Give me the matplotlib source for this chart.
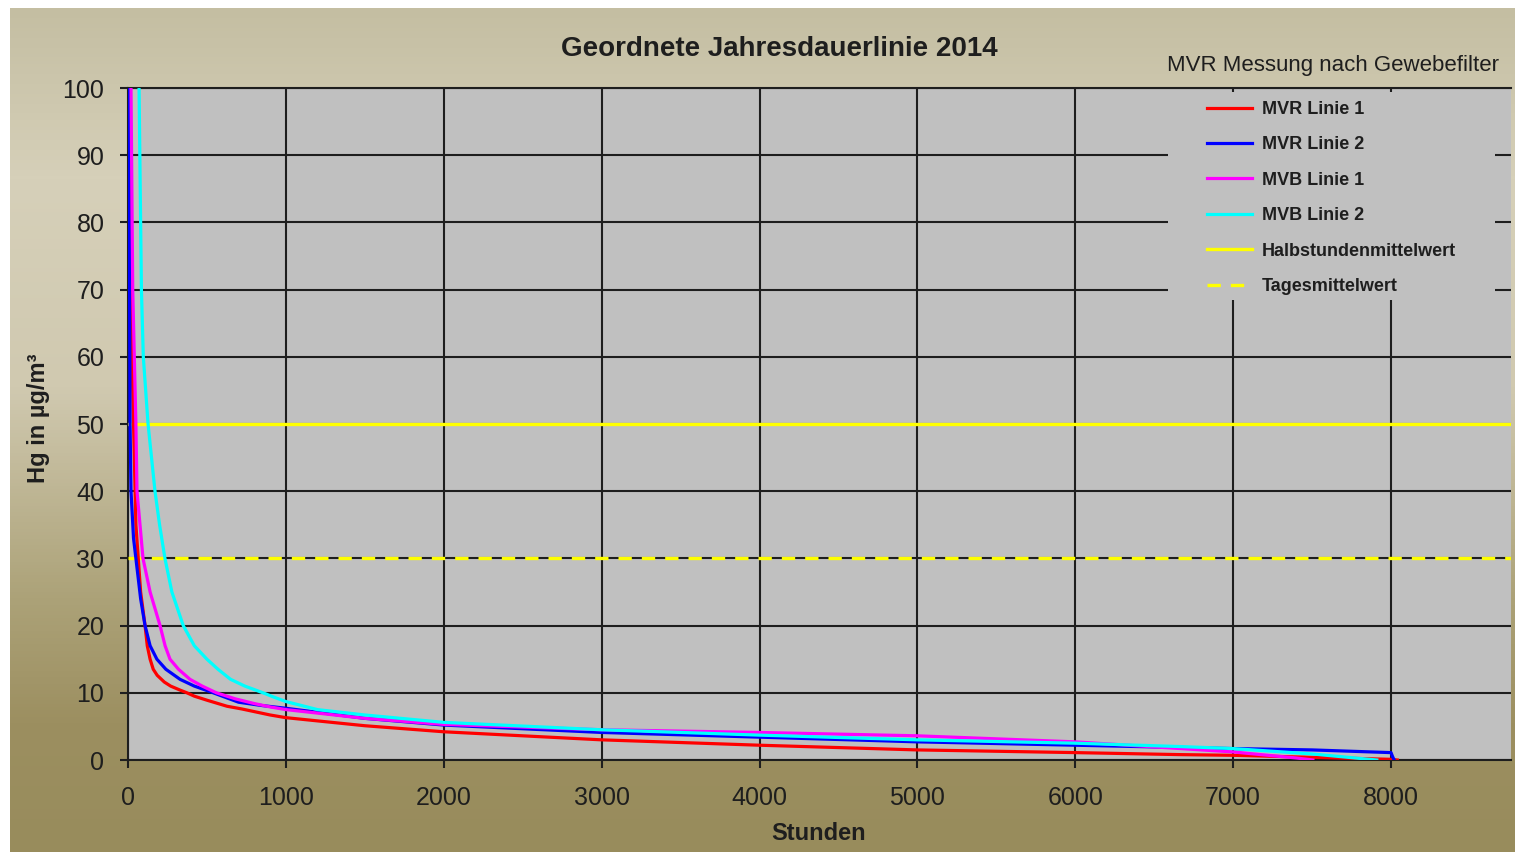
import matplotlib
matplotlib.use("Agg")
import matplotlib.pyplot as plt
import numpy as np
from matplotlib.colors import LinearSegmentedColormap
from matplotlib.patches import Rectangle

# Geordnete Jahresdauerlinie 2014
hours_mvr1 = [0, 10, 25, 50, 80, 108, 122, 140, 160, 185, 230, 270, 330, 373, 420,
              500, 627, 720, 800, 900, 1000, 1500, 2000, 3000, 4000, 5000, 6000,
              6666, 7000, 7500, 8000, 8040]
hg_mvr1 = [140, 100, 60, 35, 25, 20, 17, 15, 13.5, 12.6, 11.6, 11, 10.4, 10, 9.5,
           8.9, 8.0, 7.6, 7.2, 6.7, 6.3, 5.1, 4.2, 3.0, 2.2, 1.5, 1.1,
           0.8, 0.7, 0.4, 0.1, 0]

hours_mvr2 = [0, 5, 13, 19, 35, 50, 80, 108, 140, 183, 240, 330, 420, 540, 620,
              700, 850, 1000, 1500, 2000, 3000, 4000, 5000, 6000, 7000, 7500,
              8000, 8010, 8020]
hg_mvr2 = [150, 100, 50, 40, 33, 30, 24, 20, 17, 15, 13.5, 12, 11, 10, 9.3,
           8.6, 8.1, 7.7, 6.2, 5.2, 4.1, 3.4, 2.7, 2.2, 1.7, 1.5,
           1.1, 0.5, 0]

hours_mvb1 = [0, 19, 30, 50, 57, 95, 140, 203, 235, 266, 320, 393, 470, 560, 680,
              800, 900, 1000, 1500, 2000, 3000, 4000, 5000, 6000, 7000, 7400, 7505]
hg_mvb1 = [150, 100, 70, 50, 40, 30, 25, 20, 17, 15, 13.5, 12, 11, 10, 9.1,
           8.4, 7.9, 7.5, 6.2, 5.3, 4.5, 4.1, 3.6, 2.7, 1.2, 0.3, 0]

hours_mvb2 = [0, 70, 85, 97, 127, 171, 200, 234, 278, 350, 420, 500, 570, 650, 740,
              855, 930, 1000, 1200, 1500, 2000, 3000, 4000, 5000, 6000, 6666,
              7000, 7500, 7910]
hg_mvb2 = [160, 100, 70, 60, 50, 40, 35, 30, 25, 20, 17, 15, 13.5, 12, 11,
           10, 9.3, 8.7, 7.5, 6.7, 5.6, 4.5, 3.7, 3.0, 2.5, 2.0,
           1.7, 0.9, 0]

halbstunden_grenze = 50
tages_grenze = 30

series = [
    (hours_mvr1, hg_mvr1, "#ff0000", "MVR Linie 1"),
    (hours_mvr2, hg_mvr2, "#0000ff", "MVR Linie 2"),
    (hours_mvb1, hg_mvb1, "#ff00ff", "MVB Linie 1"),
    (hours_mvb2, hg_mvb2, "#00ffff", "MVB Linie 2"),
]

plt.rcdefaults()
plt.rcParams["font.family"] = ["Liberation Sans", "DejaVu Sans"]
fig = plt.figure(figsize=(15.15, 8.52), dpi=100, facecolor="white")

# Background gradient (beige on top to olive at the bottom)
bg = fig.add_axes([10 / 1515, 0, 1 - 10 / 1515, 1 - 8 / 852], zorder=-10)
stops = [(0.0, (196/255, 190/255, 162/255)), (0.2, (214/255, 208/255, 185/255)),
         (0.45, (208/255, 201/255, 176/255)), (0.7, (172/255, 162/255, 120/255)),
         (0.85, (156/255, 143/255, 96/255)), (1.0, (152/255, 140/255, 92/255))]
cmap = LinearSegmentedColormap.from_list("bg", stops)
bg.imshow(np.linspace(0, 1, 256).reshape(-1, 1), aspect="auto", cmap=cmap,
          extent=[0, 1, 0, 1])
bg.set_axis_off()

# Plot area
ax = fig.add_axes([128 / 1515, 1 - 760 / 852, (1511 - 128) / 1515, (760 - 88) / 852])
ax.set_facecolor("#c0c0c0")
ax.set_xlim(0, 8760)
ax.set_ylim(0, 100)
ax.set_xticks(range(0, 9000, 1000))
ax.set_yticks(range(0, 110, 10))
ax.grid(True, color="#1e1e1e", linewidth=1.5, zorder=1)
ax.set_axisbelow(True)
ax.spines["right"].set_visible(False)
for side in ["left", "bottom", "top"]:
    ax.spines[side].set_color("#1e1e1e")
    ax.spines[side].set_linewidth(1.5)
ax.tick_params(direction="out", length=6, width=1.5, color="#1e1e1e",
               labelsize=18, colors="#1e1e1e")
ax.tick_params(axis="y", pad=11)
ax.tick_params(axis="x", pad=13)

# Limits
ax.axhline(halbstunden_grenze, color="#ffff00", linewidth=2.4, zorder=3,
           label="Halbstundenmittelwert")
ax.axhline(tages_grenze, color="#ffff00", linewidth=2.4, linestyle=(0, (4, 3)),
           zorder=3, label="Tagesmittelwert")

# Duration curves
for hours, values, color, name in series:
    ax.plot(hours, values, color=color, linewidth=2.3, zorder=4, label=name)

# Legend box (gray patch covering the grid) and legend entries
box = Rectangle((1168 / 1515, 1 - 300 / 852), (1495 - 1168) / 1515, (300 - 92) / 852,
                transform=fig.transFigure, facecolor="#c0c0c0", edgecolor="none",
                zorder=5)
ax.add_artist(box)
box.set_clip_on(False)

handles, labels = ax.get_legend_handles_labels()
order = [2, 3, 4, 5, 0, 1]
leg = ax.legend([handles[i] for i in order], [labels[i] for i in order],
                loc="upper left", bbox_to_anchor=((1196 - 128) / 1383, 0.997),
                frameon=False, fontsize=13, handlelength=2.5, handletextpad=0.55,
                labelspacing=1.02, borderpad=0.6, borderaxespad=0.0)
leg.set_zorder(6)
for txt in leg.get_texts():
    txt.set_color("#1e1e1e")
    txt.set_fontweight("bold")

# Texts
fig.text(779 / 1515, 1 - 49 / 852, "Geordnete Jahresdauerlinie 2014",
         ha="center", va="center", fontsize=20, fontweight="bold", color="#1e1e1e")
fig.text(1333 / 1515, 1 - 65 / 852, "MVR Messung nach Gewebefilter",
         ha="center", va="center", fontsize=16, color="#1e1e1e")
fig.text(819 / 1515, 1 - 833 / 852, "Stunden", ha="center", va="center",
         fontsize=17, fontweight="bold", color="#1e1e1e")
fig.text(38 / 1515, 1 - 418 / 852, "Hg in µg/m³", ha="center", va="center",
         rotation=90, fontsize=17, fontweight="bold", color="#1e1e1e")

fig.savefig("out.png", dpi=100)
